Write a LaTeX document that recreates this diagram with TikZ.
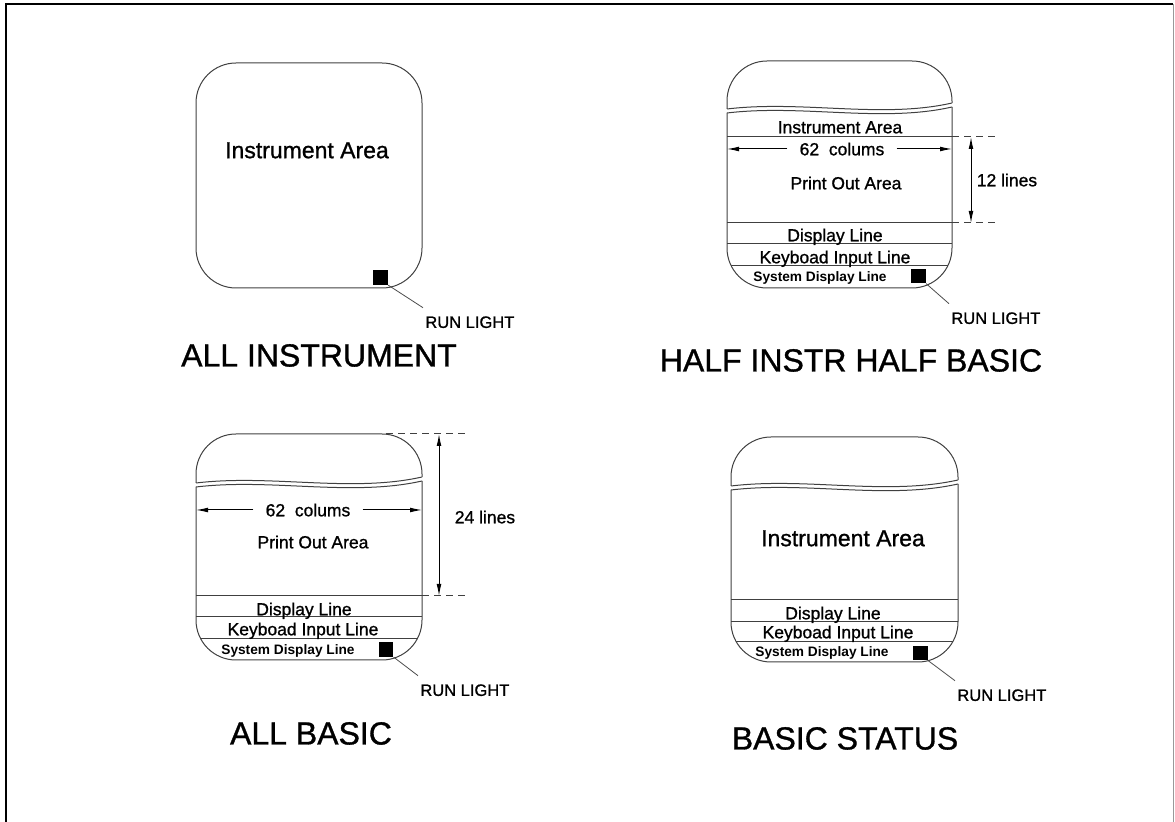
\documentclass[tikz,border=0pt]{standalone}
\usepackage{fontspec}
\setmainfont{Liberation Sans}
\newfontfamily\heavy{Liberation Sans}[FakeBold=1]
\usetikzlibrary{arrows.meta,positioning}

\begin{document}
\begin{tikzpicture}[x=0.5pt, y=-0.5pt, >=Latex,
  scr/.style={draw=black!75, line width=0.5pt, rounded corners=20pt},
  sep/.style={draw=black!75, line width=0.5pt},
  ext/.style={sep, dash pattern=on 3.5pt off 2.5pt},
  dim/.style={line width=0.5pt, -{Latex[length=6pt,width=2.4pt]}},
  dimboth/.style={line width=0.5pt, {Latex[length=6pt,width=2.4pt]}-{Latex[length=6pt,width=2.4pt]}},
  leader/.style={draw=black!70, line width=0.4pt},
  led/.style={fill=black, minimum size=7.2pt, inner sep=0pt},
  big/.style={font=\heavy\fontsize{11.5}{13}\selectfont, text height=8.2pt, text depth=0pt},
  mid/.style={font=\heavy\fontsize{8.75}{10}\selectfont, text height=6.3pt, text depth=0pt},
  sml/.style={font=\bfseries\fontsize{6.85}{8}\selectfont, text height=4.9pt, text depth=0pt},
  tag/.style={font=\heavy\fontsize{8.25}{9}\selectfont, text height=5.9pt, text depth=0pt,
              inner xsep=1pt, inner ysep=4pt, anchor=west},
  ttl/.style={font=\heavy\fontsize{16}{18}\selectfont, text height=11.5pt, text depth=0pt}]

\useasboundingbox (0,0) rectangle (1175,822);
% sheet edge
\draw[line width=1pt] (6,822) -- (6,4) -- (1173,4);
\draw[black!40, line width=0.5pt] (1173,4) -- (1173,822);

% ---- all instrument
\draw[scr] (196,63) rectangle (422,288);
\node[big] (ia1) at (307,150) {Instrument Area};
\node[led] (led1) at (380.5,277.5) {};
\node[tag] (rl1) at (423,322) {RUN LIGHT};
\draw[leader] (led1.south east) -- (rl1.north west);
\node[ttl] (t1) at (319,355) {ALL INSTRUMENT};

% ---- half instr half basic
\draw[scr] (727,109) -- (727,61) -- (952,61) -- (952,103);
\draw[sep] (727,109) .. controls (802,100) and (882,119) .. (952,103);
\draw[sep] (727,113) .. controls (802,104) and (882,123) .. (952,107);
\draw[scr] (727,113) -- (727,288) -- (952,288) -- (952,107);
\draw[sep] (727,137) -- (952,137);
\draw[sep] (727,223) -- (952,223);
\draw[sep] (727,244) -- (952,244);
\draw[sep] (731,266) -- (948,266);
\draw[ext] (952,137) -- (997,137);
\draw[ext] (952,223) -- (997,223);
\coordinate (h2t) at (971,137);
\coordinate (h2b) at (971,223);
\coordinate (c2l) at (727,149);
\coordinate (c2r) at (952,149);
\node[mid] (ia2) at (840,127) {Instrument Area};
\node[mid, inner xsep=6pt] (col2) at (842,149) {62~~colums};
\draw[dim] (col2) -- (c2l);
\draw[dim] (col2) -- (c2r);
\node[mid] (po2) at (846,183) {Print Out Area};
\draw[dimboth] (h2t) -- (h2b);
\node[mid] (ln2) at (1007,180) {12 lines};
\node[mid] (dl2) at (835,235) {Display Line};
\node[mid] (kb2) at (835,257) {Keyboad Input Line};
\node[sml] (sd2) at (820,277) {System Display Line};
\node[led] (led2) at (918.5,276) {};
\node[tag] (rl2) at (949,318) {RUN LIGHT};
\draw[leader] (led2.south east) -- (rl2.north west);
\node[ttl] (t2) at (851,360) {HALF INSTR HALF BASIC};

% ---- all basic
\draw[scr] (196,483) -- (196,434) -- (422,434) -- (422,477);
\draw[sep] (196,483) .. controls (271,474) and (351,493) .. (422,477);
\draw[sep] (196,487) .. controls (271,478) and (351,497) .. (422,481);
\draw[scr] (196,487) -- (196,660) -- (422,660) -- (422,481);
\draw[sep] (196,596) -- (422,596);
\draw[sep] (196,617) -- (422,617);
\draw[sep] (201,639) -- (417,639);
\draw[ext] (386,434) -- (465,434);
\draw[ext] (422,596) -- (465,596);
\coordinate (h3t) at (439,434);
\coordinate (h3b) at (439,596);
\coordinate (c3l) at (196,510);
\coordinate (c3r) at (422,510);
\node[mid, inner xsep=6pt] (col3) at (308,510) {62~~colums};
\draw[dim] (col3) -- (c3l);
\draw[dim] (col3) -- (c3r);
\node[mid] (po3) at (313,542) {Print Out Area};
\draw[dimboth] (h3t) -- (h3b);
\node[mid] (ln3) at (485,517) {24 lines};
\node[mid] (dl3) at (304,609) {Display Line};
\node[mid] (kb3) at (303,629) {Keyboad Input Line};
\node[sml] (sd3) at (288,650) {System Display Line};
\node[led] (led3) at (386,649.5) {};
\node[tag] (rl3) at (418,690) {RUN LIGHT};
\draw[leader] (led3.south east) -- (rl3.north west);
\node[ttl] (t3) at (311,733) {ALL BASIC};

% ---- basic status
\draw[scr] (731,486) -- (731,437) -- (958,437) -- (958,480);
\draw[sep] (731,486) .. controls (806,477) and (886,496) .. (958,480);
\draw[sep] (731,490) .. controls (806,481) and (886,500) .. (958,484);
\draw[scr] (731,490) -- (731,662) -- (958,662) -- (958,484);
\draw[sep] (731,600) -- (958,600);
\draw[sep] (731,622) -- (958,622);
\draw[sep] (736,642) -- (953,642);
\node[big] (ia4) at (843,538) {Instrument Area};
\node[mid] (dl4) at (833,613) {Display Line};
\node[mid] (kb4) at (838,632) {Keyboad Input Line};
\node[sml] (sd4) at (822,652) {System Display Line};
\node[led] (led4) at (920.5,653) {};
\node[tag] (rl4) at (955,695) {RUN LIGHT};
\draw[leader] (led4.south east) -- (rl4.north west);
\node[ttl] (t4) at (845,738) {BASIC STATUS};
\end{tikzpicture}
\end{document}
